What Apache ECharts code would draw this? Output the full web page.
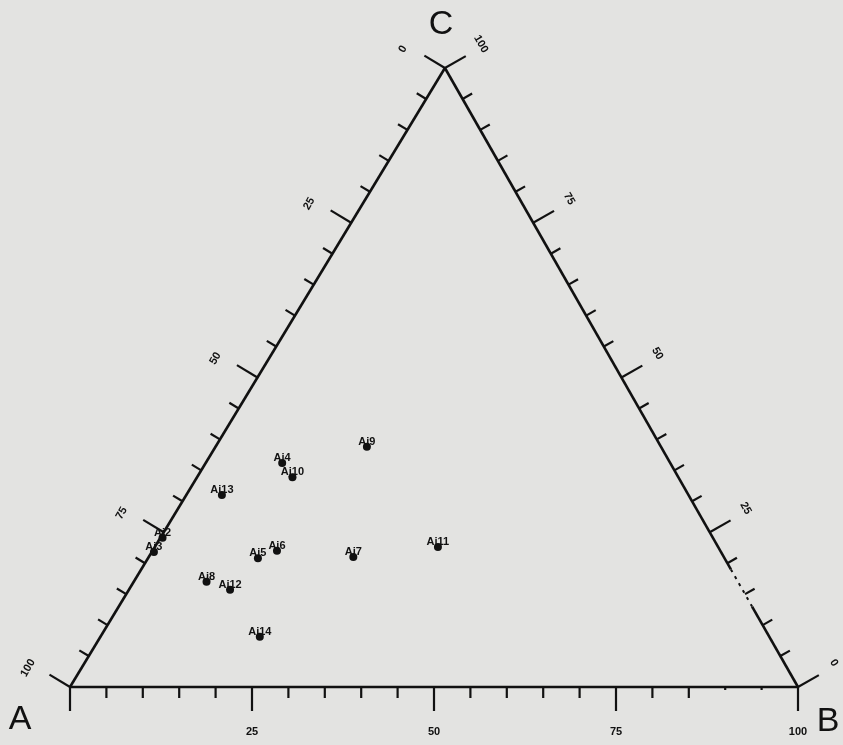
<!DOCTYPE html>
<html>
<head>
  <meta charset="utf-8" />
  <title>Ternary diagram A-B-C</title>
  <style>
    html, body { margin: 0; padding: 0; background: #e3e3e1; }
    #main { width: 843px; height: 745px; }
  </style>
</head>
<body>
  <div id="main"></div>
<script src="https://cdn.jsdelivr.net/npm/echarts@6/dist/echarts.min.js"></script>
<script>
  "use strict";

  // sample compositions, percent of A, B, C
  var sampleNames = ['Aj4', 'Aj10', 'Aj9', 'Aj13', 'Aj5', 'Aj6', 'Aj7', 'Aj11', 'Aj8', 'Aj12', 'Aj14', 'Aj2', 'Aj3'];
  var pctA = [53.3, 53.0, 40.4, 64.1, 64.1, 60.9, 50.9, 38.5, 73.0, 70.4, 70.0, 75.6, 77.9];
  var pctB = [10.5, 13.1, 20.8, 4.9, 15.1, 17.1, 28.1, 38.9, 10.0, 13.9, 21.9, 0.3, 0.3];
  var pctC = [36.2, 33.9, 38.8, 31.0, 20.8, 22.0, 21.0, 22.6, 17.0, 15.7, 8.1, 24.1, 21.8];

  // axis ticks (same on all three sides)
  var tickValues = [0, 5, 10, 15, 20, 25, 30, 35, 40, 45, 50, 55, 60, 65, 70, 75, 80, 85, 90, 95, 100];
  var majorTicks = [0, 25, 50, 75, 100];
  var tickLabels = ['0', '25', '50', '75', '100'];

  // the scanned triangle leans a little: apex C sits right of the middle
  var SKEW = 0.515;
  var INK = '#111111';

  function toXY(a, b, c) {
    return [b + SKEW * c, c];
  }

  var myChart = echarts.init(document.getElementById('main'));

  function renderFrame(params, api) {
    var pA = api.coord(toXY(100, 0, 0));
    var pB = api.coord(toXY(0, 100, 0));
    var pC = api.coord(toXY(0, 0, 100));
    var children = [];

    function seg(p, q, w, dash) {
      children.push({
        type: 'line',
        shape: { x1: p[0], y1: p[1], x2: q[0], y2: q[1] },
        style: { stroke: INK, lineWidth: w, lineDash: dash || null, lineCap: 'butt' }
      });
    }
    function txt(x, y, s, font, rot) {
      children.push({
        type: 'text', x: x, y: y, rotation: rot || 0,
        style: { text: s, font: font, fill: INK, align: 'center', verticalAlign: 'middle' }
      });
    }
    function unit(p, q) {
      var dx = q[0] - p[0], dy = q[1] - p[1], l = Math.sqrt(dx * dx + dy * dy);
      return [dx / l, dy / l];
    }

    // outward normals of left and right sides
    var dL = unit(pA, pC), nL = [dL[1], -dL[0]];
    var dR = unit(pB, pC), nR = [-dR[1], dR[0]];

    // sides
    seg(pA, pB, 2.6);
    seg(pA, pC, 2.6);
    var r19 = api.coord(toXY(0, 81, 19)), r13 = api.coord(toXY(0, 87, 13));
    seg(pC, r19, 2.6);
    seg(r19, r13, 2, [3, 5]);
    seg(r13, pB, 2.6);

    // ticks
    tickValues.forEach(function (v) {
      var major = majorTicks.indexOf(v) >= 0;
      var len = major ? 24 : 11;

      var pb = api.coord(toXY(100 - v, v, 0));
      var lb = (v === 90 || v === 95) ? 3 : len;
      seg(pb, [pb[0], pb[1] + lb], 2.2);

      var pl = api.coord(toXY(v, 0, 100 - v));
      seg(pl, [pl[0] + nL[0] * len, pl[1] + nL[1] * len], 2.2);

      var pr = api.coord(toXY(0, 100 - v, v));
      seg(pr, [pr[0] + nR[0] * len, pr[1] + nR[1] * len], 2.2);
    });

    // tick labels
    var small = 'bold 11px "Liberation Sans", Arial, sans-serif';
    majorTicks.forEach(function (v, i) {
      var pl = api.coord(toXY(v, 0, 100 - v));
      txt(pl[0] - 42, pl[1] - 19, tickLabels[i], small, Math.PI / 3);
      var pr = api.coord(toXY(0, 100 - v, v));
      txt(pr[0] + 36, pr[1] - 24, tickLabels[i], small, -Math.PI / 3);
      if (v > 0) {
        var pb = api.coord(toXY(100 - v, v, 0));
        txt(pb[0], pb[1] + 45, tickLabels[i], small, 0);
      }
    });

    // corner letters
    var big = '34px "Liberation Sans", Arial, sans-serif';
    txt(pA[0] - 50, pA[1] + 33, 'A', big, 0);
    txt(pB[0] + 30, pB[1] + 35, 'B', big, 0);
    txt(pC[0] - 4, pC[1] - 43, 'C', big, 0);

    return { type: 'group', children: children };
  }

  var points = sampleNames.map(function (name, i) {
    return { name: name, value: toXY(pctA[i], pctB[i], pctC[i]) };
  });

  var option = {
    backgroundColor: '#e3e3e1',
    animation: false,
    grid: { left: 70, right: 45, top: 68, bottom: 58 },
    xAxis: { type: 'value', min: 0, max: 100, show: false },
    yAxis: { type: 'value', min: 0, max: 100, show: false },
    series: [
      {
        type: 'custom',
        silent: true,
        clip: false,
        renderItem: renderFrame,
        data: [[0, 0]],
        z: 1
      },
      {
        type: 'scatter',
        symbol: 'circle',
        symbolSize: 8,
        itemStyle: { color: INK, opacity: 1 },
        label: {
          show: true,
          position: 'inside',
          offset: [0, -5],
          formatter: '{b}',
          color: INK,
          textBorderWidth: 0,
          fontSize: 11,
          fontWeight: 'bold',
          fontFamily: '"Liberation Sans", Arial, sans-serif'
        },
        data: points,
        z: 2
      }
    ]
  };

  myChart.setOption(option);
</script>
</body>
</html>
